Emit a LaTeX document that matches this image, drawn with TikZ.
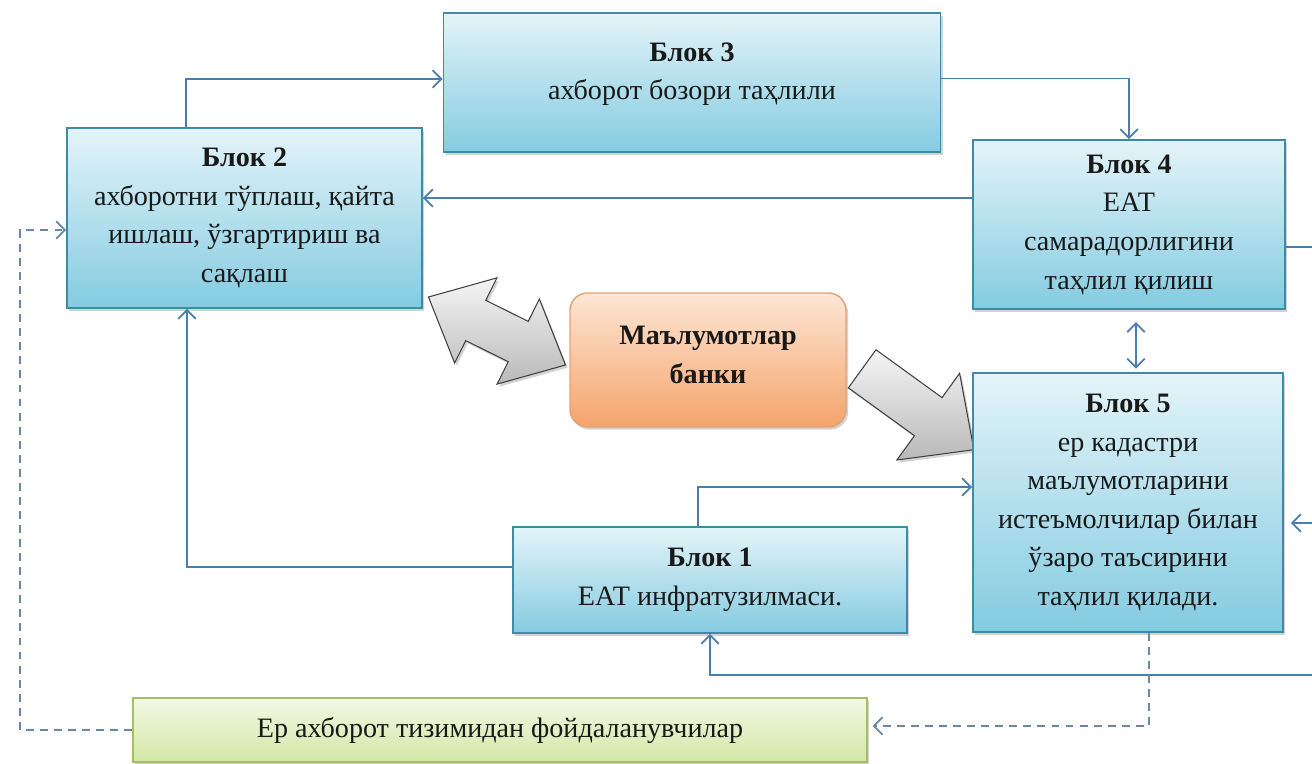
\documentclass[tikz,border=0pt]{standalone}
\usepackage{fontspec}
\setmainfont{LiberationSerif}[Extension=.ttf, UprightFont=*-Regular, BoldFont=*-Bold, ItalicFont=*-Italic, BoldItalicFont=*-BoldItalic]
\usetikzlibrary{arrows.meta}
\usetikzlibrary{shapes.arrows}
\usetikzlibrary{shadows}

\definecolor{boxtop}{HTML}{E4F4F9}
\definecolor{boxbot}{HTML}{84CBE0}
\definecolor{boxline}{HTML}{3D8CA6}
\definecolor{banktop}{HTML}{FDE6D5}
\definecolor{bankbot}{HTML}{F4A46C}
\definecolor{bankline}{HTML}{E3A276}
\definecolor{usertop}{HTML}{F4F9E6}
\definecolor{userbot}{HTML}{D2E6A4}
\definecolor{userline}{HTML}{A5BF66}
\definecolor{flow}{HTML}{4B7EAC}
\definecolor{flowdash}{HTML}{6A88A6}

\tikzset{
  txt/.style={font=\fontsize{16pt}{22pt}\selectfont, align=center, text=black!90},
  softshadow/.style={drop shadow={shadow xshift=1.2pt, shadow yshift=-1.5pt, opacity=0.35}},
  blok/.style={txt, draw=boxline, line width=1pt, top color=boxtop, bottom color=boxbot, inner sep=0pt, softshadow},
  bankbox/.style={txt, draw=bankline, line width=0.8pt, rounded corners=10pt, top color=banktop, bottom color=bankbot, font=\fontsize{16pt}{22pt}\selectfont\bfseries, softshadow},
  userbox/.style={txt, draw=userline, line width=0.8pt, top color=usertop, bottom color=userbot, inner sep=0pt, softshadow},
  bigarrow/.style={draw=black!75, line width=0.6pt, top color=gray!8, bottom color=gray!55, inner xsep=0pt, softshadow},
  flowline/.style={flow, line width=1pt, ->},
  dashline/.style={flowdash, line width=1pt, dash pattern=on 4.5pt off 3.5pt, ->}
}

\begin{document}
\begin{tikzpicture}[x=0.02cm, y=-0.02cm, >={Straight Barb[length=5pt,width=10pt]}]
\useasboundingbox (0,0) rectangle (1312,764);

\node[bigarrow, double arrow, rotate=-26.4, minimum height=3.06cm, inner ysep=0.44cm,
  double arrow head extend=0.5cm, double arrow tip angle=84] (dblarrow) at (497,331) {};
\node[bigarrow, single arrow, rotate=-35.9, minimum height=2.76cm, inner ysep=0.46cm,
  single arrow head extend=0.6cm, single arrow tip angle=87] (outarrow) at (908,402) {};

\node[blok, minimum width=9.94cm, minimum height=2.78cm,
  label={[txt, anchor=north, inner sep=0pt, yshift=-0.6cm]north:{\textbf{Блок 3}\\ахборот бозори таҳлили}}] (b3) at (692,82.5) {};
\node[blok, minimum width=7.1cm, minimum height=3.6cm] (b2) at (244.5,218)
  {\textbf{Блок 2}\\ахборотни тўплаш, қайта\\ишлаш, ўзгартириш ва\\сақлаш};
\node[blok, minimum width=6.24cm, minimum height=3.38cm] (b4) at (1129,224.5)
  {\textbf{Блок 4}\\ЕАТ\\самарадорлигини\\таҳлил қилиш};
\node[bankbox, minimum width=5.52cm, minimum height=2.68cm, text depth=0.2cm] (bank) at (708,360)
  {Маълумотлар\\банки};
\node[blok, minimum width=6.2cm, minimum height=5.18cm] (b5) at (1128,502.5)
  {\textbf{Блок 5}\\ер кадастри\\маълумотларини\\истеъмолчилар билан\\ўзаро таъсирини\\таҳлил қилади.};
\node[blok, minimum width=7.88cm, minimum height=2.12cm] (b1) at (710,580)
  {\textbf{Блок 1}\\ЕАТ инфратузилмаси.};
\node[userbox, minimum width=14.68cm, minimum height=1.28cm] (users) at (500,730)
  {Ер ахборот тизимидан фойдаланувчилар};

\coordinate (r4) at (1312,247);
\coordinate (r5) at (1312,523);
\coordinate (r1) at (1312,675);

\draw[flowline] ([xshift=2.4cm]b2.north west) |- ([yshift=0.07cm]b3.west);
\draw[flowline] ([yshift=0.08cm]b3.east) -| (b4.north);
\draw[flowline] ([yshift=0.53cm]b4.west) -- ([yshift=0.53cm]b4.west -| b2.east);
\draw[flowline, -] ([yshift=-0.45cm]b4.east) -- (r4);
\draw[flowline] (r5) -- ([xshift=0.14cm, yshift=-0.41cm]b5.east);
\draw[flowline] (r1) -| (b1.south);
\draw[flowline] ([xshift=-0.24cm]b1.north) |- ([yshift=0.31cm]b5.west);
\draw[flowline] ([yshift=0.26cm]b1.west) -| ([xshift=-1.15cm]b2.south);
\draw[flowline, <->, shorten <=7pt, shorten >=2pt] ([xshift=0.14cm]b4.south) -- ([xshift=0.16cm]b5.north);

\draw[dashline] ([xshift=0.42cm]b5.south) |- ([xshift=0.1cm, yshift=0.08cm]users.east);
\draw[dashline] (users.west) -| ([xshift=-0.92cm, yshift=-0.24cm]b2.west) -- ([yshift=-0.24cm]b2.west);
\end{tikzpicture}
\end{document}
